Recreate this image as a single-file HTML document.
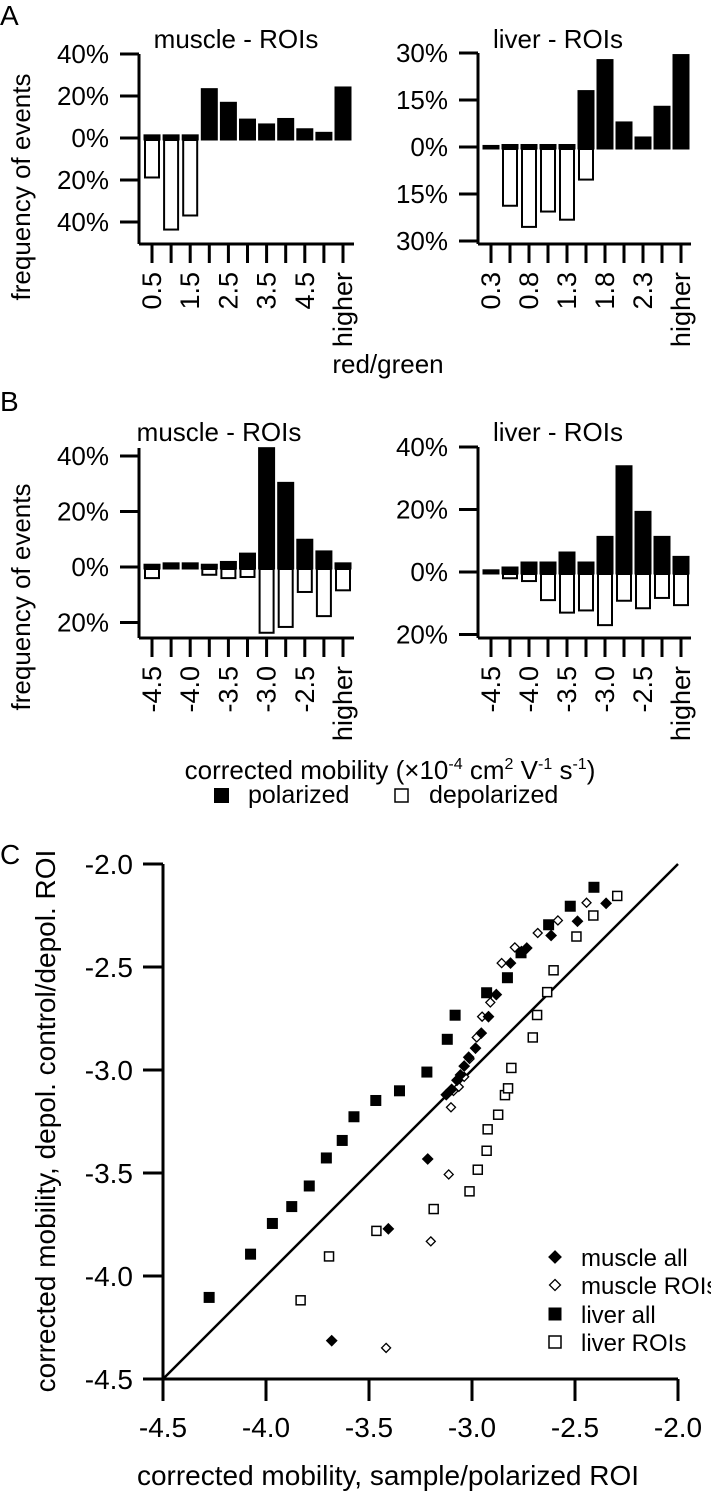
<!DOCTYPE html>
<html><head><meta charset="utf-8"><style>
html,body{margin:0;padding:0;background:#fff;}
svg{display:block;font-family:"Liberation Sans",Arial,sans-serif;}
text{fill:#000;}
</style></head><body>
<svg id="fig" width="711" height="1491" viewBox="0 0 711 1491" xmlns="http://www.w3.org/2000/svg">
<text x="0" y="25" font-size="28">A</text>
<text x="0" y="411" font-size="28">B</text>
<text x="0" y="864" font-size="28">C</text>
<text x="236" y="48" font-size="26" text-anchor="middle">muscle - ROIs</text>
<text x="558" y="48" font-size="26" text-anchor="middle">liver - ROIs</text>
<text transform="translate(30,187) rotate(-90)" font-size="26" text-anchor="middle">frequency of events</text>
<text x="388" y="373" font-size="26" text-anchor="middle">red/green</text>
<text x="219" y="441" font-size="26" text-anchor="middle">muscle - ROIs</text>
<text x="558" y="441" font-size="26" text-anchor="middle">liver - ROIs</text>
<text transform="translate(30,597) rotate(-90)" font-size="26" text-anchor="middle">frequency of events</text>
<text x="390" y="779" font-size="26" text-anchor="middle">corrected mobility (×10<tspan dy="-10" font-size="16">-4</tspan><tspan dy="10"> cm</tspan><tspan dy="-10" font-size="16">2</tspan><tspan dy="10"> V</tspan><tspan dy="-10" font-size="16">-1</tspan><tspan dy="10"> s</tspan><tspan dy="-10" font-size="16">-1</tspan><tspan dy="10">)</tspan></text>
<rect x="214" y="788" width="15" height="15" fill="#000"/>
<text x="248" y="803" font-size="25">polarized</text>
<rect x="395" y="789" width="13" height="13" fill="#fff" stroke="#000" stroke-width="1.5"/>
<text x="429" y="803" font-size="25">depolarized</text>
<g id="c"></g>
</svg>
<script>
// Panel A muscle
const aMuscleCats = ["0.5","1.0","1.5","2.0","2.5","3.0","3.5","4.0","4.5","5.0","higher"];
const aMusclePol = [1.5,1.5,1.5,23.5,17,9,6.7,9.3,4.4,2.7,24.3];
const aMuscleDep = [18.8,43.6,36.9,0,0,0,0,0,0,0,0];
const aMuscleTicks = [40,20,0,-20,-40];
// Panel A liver
const aLiverCats = ["0.3","0.55","0.8","1.05","1.3","1.55","1.8","2.05","2.3","2.55","higher"];
const aLiverPol = [0.5,0.8,0.8,0.8,0.8,18,27.9,8,3.2,13,29.5];
const aLiverDep = [0,18.75,25.5,20.6,23.2,10.4,0,0,0,0,0];
const aLiverTicks = [30,15,0,-15,-30];
// Panel B muscle
const bMuscleCats = ["-4.5","-4.25","-4.0","-3.75","-3.5","-3.25","-3.0","-2.75","-2.5","-2.25","higher"];
const bMusclePol = [1,1.5,1.5,1,2,5,43,30.5,10,5.8,1.5];
const bMuscleDep = [4,0,0,2.8,4,3.6,23.7,21.6,9,17.7,8.4];
const bMuscleTicks = [40,20,0,-20];
// Panel B liver
const bLiverCats = ["-4.5","-4.25","-4.0","-3.75","-3.5","-3.25","-3.0","-2.75","-2.5","-2.25","higher"];
const bLiverPol = [0.7,1.6,3.2,3.2,6.4,3.2,11.4,34,19.4,11.4,5];
const bLiverDep = [0,2,2.9,9,13,12.3,17,9.2,11.6,8.3,10.6];
const bLiverTicks = [40,20,0,-20];
const labelEvery = 2;

// Panel C data
const liverAllX = [-4.276,-4.075,-3.969,-3.875,-3.790,-3.707,-3.630,-3.573,-3.467,-3.352,-3.219,-3.120,-3.082,-2.929,-2.828,-2.762,-2.628,-2.523,-2.408];
const liverAllY = [-4.104,-3.894,-3.745,-3.663,-3.563,-3.427,-3.342,-3.227,-3.148,-3.101,-3.010,-2.851,-2.734,-2.625,-2.552,-2.431,-2.295,-2.205,-2.113];
const liverRoiX = [-3.832,-3.694,-3.464,-3.186,-3.012,-2.972,-2.929,-2.924,-2.873,-2.840,-2.825,-2.809,-2.705,-2.684,-2.635,-2.604,-2.493,-2.411,-2.295];
const liverRoiY = [-4.118,-3.905,-3.781,-3.675,-3.589,-3.484,-3.392,-3.288,-3.217,-3.122,-3.089,-2.990,-2.842,-2.733,-2.622,-2.516,-2.352,-2.250,-2.155];
const muscleAllX = [-3.681,-3.406,-3.215,-3.125,-3.099,-3.073,-3.056,-3.038,-3.016,-2.983,-2.955,-2.920,-2.882,-2.813,-2.760,-2.734,-2.616,-2.488,-2.349];
const muscleAllY = [-4.314,-3.771,-3.432,-3.120,-3.094,-3.050,-3.024,-2.981,-2.938,-2.894,-2.821,-2.741,-2.634,-2.481,-2.425,-2.408,-2.347,-2.278,-2.191];
const muscleRoiX = [-3.417,-3.200,-3.113,-3.102,-3.090,-3.064,-3.038,-3.012,-2.977,-2.951,-2.911,-2.856,-2.792,-2.681,-2.583,-2.444];
const muscleRoiY = [-4.349,-3.832,-3.507,-3.181,-3.102,-3.082,-3.033,-2.946,-2.842,-2.741,-2.672,-2.481,-2.405,-2.335,-2.274,-2.188];
const cTicks = [-4.5,-4.0,-3.5,-3.0,-2.5,-2.0];
const cTickLabels = ["-4.5","-4.0","-3.5","-3.0","-2.5","-2.0"];

const NS = "http://www.w3.org/2000/svg";
const svg = document.getElementById('fig');
function mk(tag, attrs, parent){
  const e = document.createElementNS(NS, tag);
  for (const k in attrs) e.setAttribute(k, attrs[k]);
  (parent||svg).appendChild(e);
  return e;
}

function hist(o){
  const g = mk('g', {});
  
  
  const per = (o.y0 - o.yTop) / o.tickMax;
  const yS = v => o.y0 - v * per;
  const n = o.cats.length;
  const xS = i => o.x1 + i * o.step;
  for (let i = 0; i < n; i++){
    const cx = xS(i);
    if (o.pol[i] > 0){
      const r = mk('rect', {x: cx - o.bw/2, y: yS(o.pol[i]), width: o.bw, height: Math.max(o.pol[i]*per + 2, 3), fill: '#000', stroke:'#000', 'stroke-width':1}, g);
      
      
    }
    if (o.dep[i] > 0){
      const r = mk('rect', {x: cx - o.bw/2 + 1, y: o.y0 + 2, width: o.bw - 2, height: Math.max(o.dep[i]*per - 2, 1), fill: '#fff', stroke:'#000', 'stroke-width':2}, g);
      
      
    }
  }
  const ya = mk('line', {x1: o.ax, y1: o.yTopAxis, x2: o.ax, y2: o.xAxisY, stroke:'#000', 'stroke-width':3}, g);
  
  
  o.ticks.forEach(t => {
    const y = yS(t);
    mk('line', {x1: o.ax - 19, y1: y, x2: o.ax, y2: y, stroke:'#000', 'stroke-width':3}, g);
    const tx = mk('text', {x: o.ax - 30, y: y + 9, 'font-size': 26, 'text-anchor':'end'}, g);
    tx.textContent = Math.abs(t) + '%';
    
    
  });
  const xa = mk('line', {x1: o.ax, y1: o.xAxisY, x2: o.xEnd, y2: o.xAxisY, stroke:'#000', 'stroke-width':3}, g);
  
  
  for (let i = 0; i < n; i++){
    const x = xS(i);
    mk('line', {x1: x, y1: o.xAxisY, x2: x, y2: o.xAxisY + 19, stroke:'#000', 'stroke-width':3}, g);
    if (i % labelEvery === 0){
      const tx = mk('text', {transform: `translate(${x+9},${o.xAxisY + 28}) rotate(-90)`, 'font-size': 27, 'text-anchor':'end'}, g);
      tx.textContent = o.cats[i];
      
      
    }
  }
}

hist({name:'a-muscle-histogram', cats:aMuscleCats, pol:aMusclePol, dep:aMuscleDep, ticks:aMuscleTicks, tickMax:40,
  ax:139, y0:138, yTop:54, yTopAxis:54, xAxisY:244, x1:152, step:19.1, bw:16, xEnd:354});
hist({name:'a-liver-histogram', cats:aLiverCats, pol:aLiverPol, dep:aLiverDep, ticks:aLiverTicks, tickMax:30,
  ax:478, y0:147, yTop:53, yTopAxis:53, xAxisY:244, x1:491, step:19, bw:16, xEnd:691});
hist({name:'b-muscle-histogram', cats:bMuscleCats, pol:bMusclePol, dep:bMuscleDep, ticks:bMuscleTicks, tickMax:40,
  ax:139, y0:567, yTop:456, yTopAxis:448, xAxisY:638, x1:152, step:19.1, bw:16, xEnd:354});
hist({name:'b-liver-histogram', cats:bLiverCats, pol:bLiverPol, dep:bLiverDep, ticks:bLiverTicks, tickMax:40,
  ax:478, y0:572, yTop:447, yTopAxis:447, xAxisY:638, x1:491, step:19, bw:16, xEnd:691});

// Panel C
const c = document.getElementById('c');
const X0 = 163, Y0 = 1379, S = 206;
const cx = v => X0 + (v + 4.5) * S;
const cy = v => Y0 - (v + 4.5) * S;
const yAx = mk('line', {x1:X0, y1:cy(-2), x2:X0, y2:Y0, stroke:'#000','stroke-width':3}, c);


const xAx = mk('line', {x1:X0, y1:Y0, x2:cx(-2), y2:Y0, stroke:'#000','stroke-width':3}, c);


cTicks.forEach((t, i) => {
  mk('line', {x1:X0-20, y1:cy(t), x2:X0, y2:cy(t), stroke:'#000','stroke-width':3}, c);
  mk('line', {x1:cx(t), y1:Y0, x2:cx(t), y2:Y0+22, stroke:'#000','stroke-width':3}, c);
  const ty = mk('text', {x:X0-30, y:cy(t)+10, 'font-size':28, 'text-anchor':'end'}, c);
  ty.textContent = cTickLabels[i];
  
  
  const tx = mk('text', {x:cx(t), y:Y0+58, 'font-size':28, 'text-anchor':'middle'}, c);
  tx.textContent = cTickLabels[i];
  
  
});
const diag = mk('line', {x1:cx(-4.5), y1:cy(-4.5), x2:cx(-2), y2:cy(-2), stroke:'#000','stroke-width':2.5}, c);



function sq(x, y, filled, s){
  return mk('rect', {x:x-s/2, y:y-s/2, width:s, height:s, fill: filled?'#000':'#fff', stroke:'#000', 'stroke-width': filled?0:1.5}, c);
}
function dia(x, y, filled, s){
  return mk('path', {d:`M${x} ${y-s/2} L${x+s/2} ${y} L${x} ${y+s/2} L${x-s/2} ${y} Z`, fill: filled?'#000':'#fff', stroke:'#000', 'stroke-width': 1.3}, c);
}
liverRoiX.forEach((v,i) => {
  const m = sq(cx(v), cy(liverRoiY[i]), false, 9);
  
  
});
liverAllX.forEach((v,i) => {
  const m = sq(cx(v), cy(liverAllY[i]), true, 11);
  
  
});
muscleRoiX.forEach((v,i) => {
  const m = dia(cx(v), cy(muscleRoiY[i]), false, 9);
  
  
});
muscleAllX.forEach((v,i) => {
  const m = dia(cx(v), cy(muscleAllY[i]), true, 10);
  
  
});

const legendLabels = ["muscle all","muscle ROIs","liver all","liver ROIs"];
const legendRowY = [1257,1285,1314,1342];
legendLabels.forEach((lab, i) => {
  const y = legendRowY[i];
  let m;
  if (i === 0) m = dia(555, y, true, 12);
  else if (i === 1) m = dia(555, y, false, 11);
  else if (i === 2) m = sq(555, y, true, 13);
  else m = sq(555, y, false, 12);
  
  
  const t = mk('text', {x:581, y:y+9, 'font-size':24}, c);
  t.textContent = lab;
  
  
});
const xt = mk('text', {x:388, y:1485, 'font-size':28, 'text-anchor':'middle'}, c);
xt.textContent = 'corrected mobility, sample/polarized ROI';


const yt = mk('text', {transform:'translate(55,1121) rotate(-90)', 'font-size':28, 'text-anchor':'middle'}, c);
yt.textContent = 'corrected mobility, depol. control/depol. ROI';


</script>
</body></html>
